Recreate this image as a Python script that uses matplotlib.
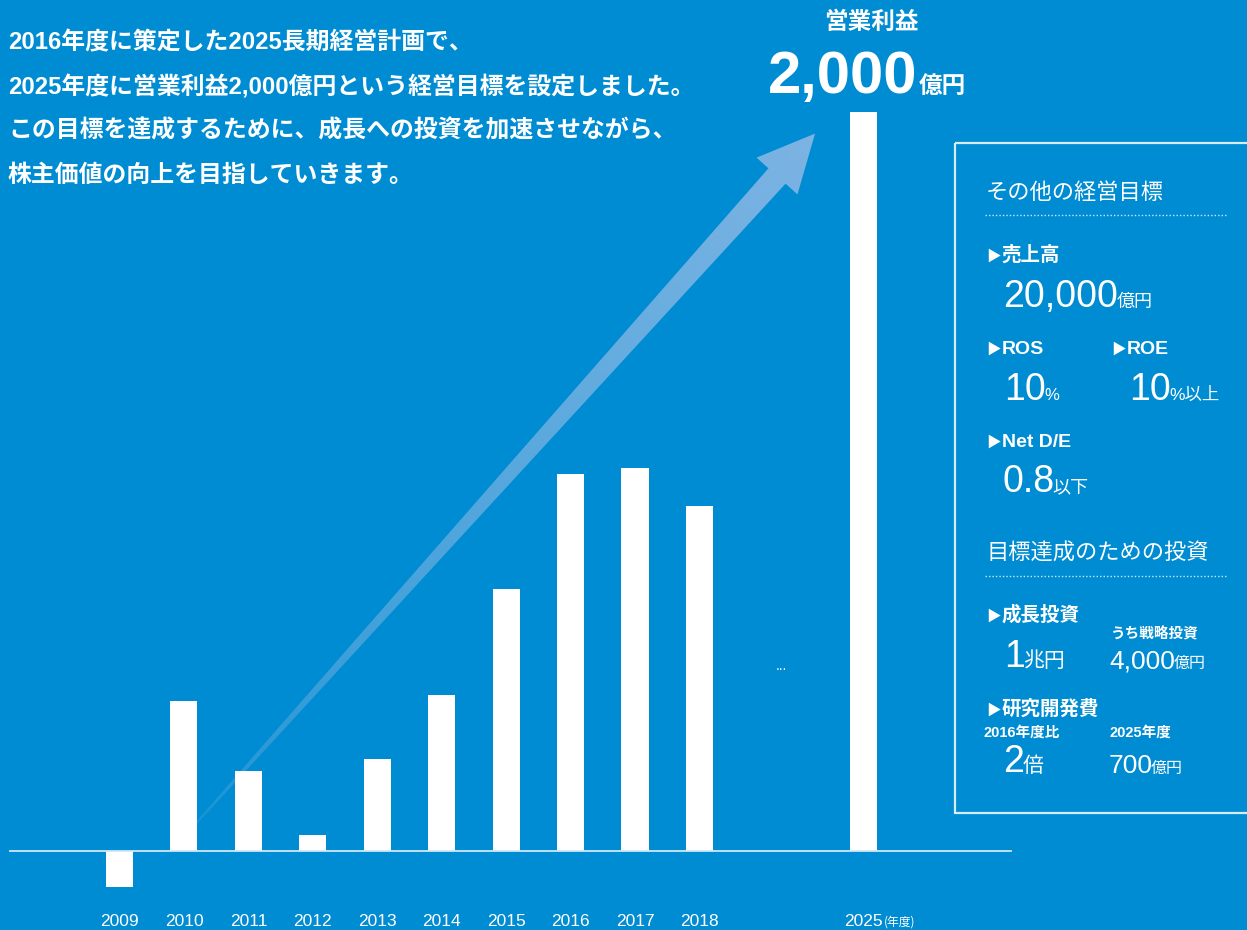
import numpy as np
import matplotlib
matplotlib.use("Agg")
import matplotlib.pyplot as plt
import matplotlib.transforms as mtransforms
from matplotlib.patches import Polygon, Rectangle

# data (operating profit, 100M yen)
years = ["2009", "2010", "2011", "2012", "2013", "2014", "2015", "2016", "2017", "2018", "2025"]
profit = [-97, 406, 217, 43, 249, 422, 709, 1020, 1037, 934, 2000]
positions = list(range(10)) + [11.55]

intro = ["2016年度に策定した2025長期経営計画で、",
         "2025年度に営業利益2,000億円という経営目標を設定しました。",
         "この目標を達成するために、成長への投資を加速させながら、",
         "株主価値の向上を目指していきます。"]

BG = "#008cd2"
W, H = 1247, 930
LAT = ["Liberation Sans", "Noto Sans CJK JP", "DejaVu Sans"]
JP = ["Noto Sans CJK JP", "DejaVu Sans"]
NARROW = ["Liberation Sans Narrow", "Liberation Sans", "Noto Sans CJK JP"]

fig = plt.figure(figsize=(W / 100, H / 100), dpi=100, facecolor=BG)
bg = fig.add_axes([0, 0, 1, 1])
bg.set_facecolor(BG)
ax = fig.add_axes([0, 0, 1, 1])
ax.patch.set_alpha(0)

# --- gradient arrow (decoration) ---
S = np.array([165.0, 858.0])
B = np.array([777.0, 176.0])
u = (B - S) / np.linalg.norm(B - S)
n = np.array([-u[1], u[0]])
T = B + u * 57
pts = [S + n * 0.5, B + n * 11.5, B + n * 27.5, T, B - n * 27.5, B - n * 11.5, S - n * 0.5]
arrow = Polygon(pts, closed=True, fill=False, lw=0)
bg.add_patch(arrow)
gx, gy = np.meshgrid(np.linspace(0, W, 624), np.linspace(0, H, 466))
t = ((gx - S[0]) * u[0] + (gy - S[1]) * u[1]) / np.linalg.norm(T - S)
t = np.clip(t, 0, 1) ** 0.55
img = np.zeros(gx.shape + (4,))
img[..., 0] = 125 / 255
img[..., 1] = 180 / 255
img[..., 2] = 227 / 255
img[..., 3] = t
im = bg.imshow(img, extent=[0, W, H, 0], aspect="auto", interpolation="bilinear", zorder=1)
im.set_clip_path(arrow)

bg.set_xlim(0, W)
bg.set_ylim(H, 0)
bg.axis("off")

# --- bars ---
px_per_unit = 739 / 2000
ax.set_xlim(-119.5 / 64.44, (W - 119.5) / 64.44)
ax.set_ylim(-(H - 851) / px_per_unit, 851 / px_per_unit)
ax.axis("off")
ax.bar(positions, profit, width=0.42, color="white", zorder=3)
ax.plot([-109.5 / 64.44, 891.5 / 64.44], [0, 0], color="#cfe9f8", lw=1.3, zorder=4)

lab = mtransforms.blended_transform_factory(ax.transData, bg.transData)
for p, yr in zip(positions, years):
    ax.text(p, 921, yr, transform=lab, ha="center", va="center", color="white",
            fontsize=12.5, family=NARROW)
bg.text(884, 922, "(年度)", ha="left", va="center", color="white", fontsize=8.5, family=JP)
bg.text(781, 666, "...", ha="center", va="center", color="white", fontsize=10, family=LAT)

renderer = fig.canvas.get_renderer()


def rich(x, y, parts, gap=-1):
    for s, size, weight in parts:
        txt = bg.text(x, y, s, fontsize=size, fontweight=weight, color="white",
                      ha="left", va="baseline", family=LAT, zorder=5)
        x = txt.get_window_extent(renderer).x1 + gap


# intro paragraph
for i, line in enumerate(intro):
    bg.text(8, 43 + 44 * i, line, fontsize=17.2, fontweight="bold", color="white",
            ha="left", va="center", family=LAT)

# headline target
bg.text(871, 22, "営業利益", fontsize=17, fontweight="bold", color="white",
        ha="center", va="center", family=JP)
rich(768, 93, [("2,000", 43, "bold"), ("億円", 17, "bold")], gap=1)

# --- right panel ---
bg.add_patch(Rectangle((955, 143), 400, 670, fill=False, ec="#d6edf9", lw=1.6, zorder=2))
for yy in (215, 576):
    bg.plot([985, 1228], [yy, yy], color="white", alpha=0.8, lw=1, ls=(0, (1, 1.5)))

bg.text(986, 192, "その他の経営目標", fontsize=16, color="white", ha="left", va="center", family=JP)
bg.text(986, 553, "目標達成のための投資", fontsize=16, color="white", ha="left", va="center", family=JP)

rich(986, 261, [("▶", 10.5, "normal"), ("売上高", 14, "bold")], gap=1)
rich(1003, 307, [("20,000", 27, "normal"), ("億円", 13, "normal")])

rich(986, 354, [("▶", 10.5, "normal"), ("ROS", 14, "bold")], gap=1)
rich(1111, 354, [("▶", 10.5, "normal"), ("ROE", 14, "bold")], gap=1)
rich(1004, 400, [("10", 27, "normal"), ("%", 12, "normal")])
rich(1129, 400, [("10", 27, "normal"), ("%以上", 12.5, "normal")])

rich(986, 447, [("▶", 10.5, "normal"), ("Net D/E", 14, "bold")], gap=1)
rich(1002, 492, [("0.8", 27, "normal"), ("以下", 13, "normal")], gap=-2)

rich(986, 621, [("▶", 10.5, "normal"), ("成長投資", 14, "bold")], gap=1)
bg.text(1111, 633, "うち戦略投資", fontsize=10.5, fontweight="bold", color="white",
        ha="left", va="center", family=JP)
rich(1004, 667, [("1", 27, "normal"), ("兆円", 15, "normal")], gap=-2)
rich(1109, 668, [("4,000", 19, "normal"), ("億円", 11.5, "normal")])

rich(986, 715, [("▶", 10.5, "normal"), ("研究開発費", 14, "bold")], gap=1)
bg.text(984, 733, "2016年度比", fontsize=10.5, fontweight="bold", color="white",
        ha="left", va="center", family=LAT)
bg.text(1110, 733, "2025年度", fontsize=10.5, fontweight="bold", color="white",
        ha="left", va="center", family=LAT)
rich(1003, 772, [("2", 27, "normal"), ("倍", 15, "normal")], gap=-1)
rich(1109, 773, [("700", 19, "normal"), ("億円", 11.5, "normal")], gap=-2)

fig.savefig("out.png", dpi=100, facecolor=BG)
